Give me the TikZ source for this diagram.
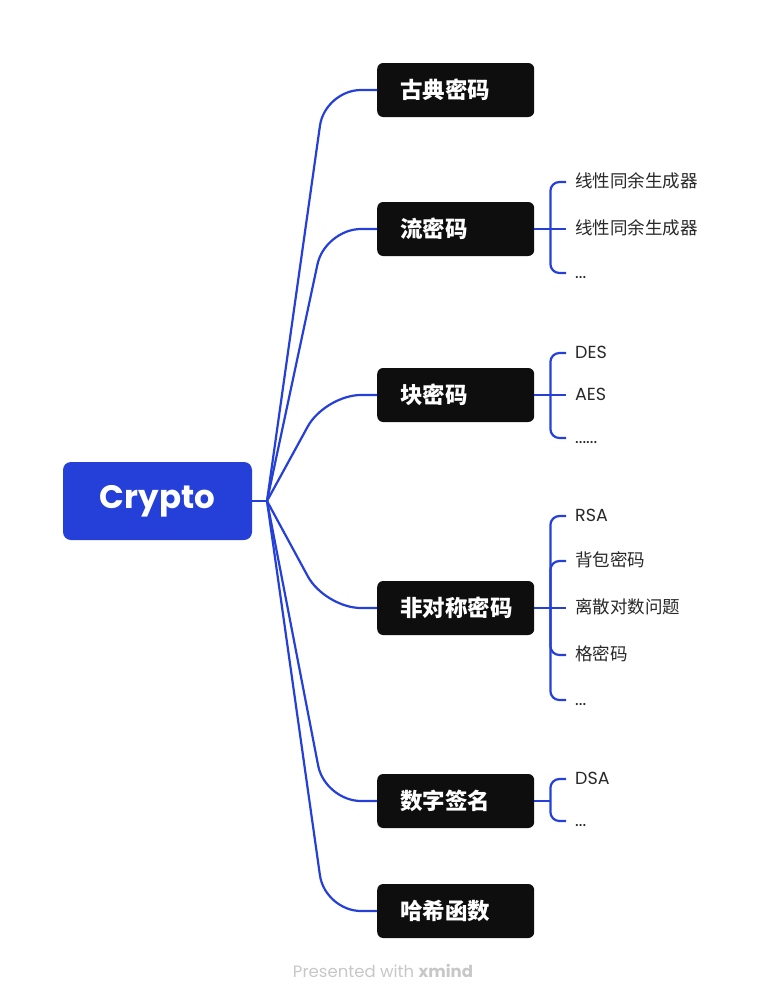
\documentclass[tikz,border=0pt]{standalone}
\usepackage{fontspec}
\setmainfont{Poppins}
\newfontfamily\cjk{Noto Sans CJK SC}
\definecolor{xblue}{RGB}{36,64,216}
\definecolor{xdark}{RGB}{14,14,14}
\definecolor{xtext}{RGB}{40,40,40}
\tikzset{
  topic/.style={fill=xdark,text=white,rounded corners=6pt,anchor=west,
    minimum height=54pt,text width=111pt,inner xsep=23pt,align=left,
    font=\cjk\bfseries\fontsize{22.5}{22.5}\selectfont},
  leaf/.style={anchor=west,inner sep=0pt,text height=13pt,text depth=3pt,
    text=xtext,font=\cjk\fontsize{17.5}{17.5}\selectfont},
  link/.style={draw=xblue,line width=2.2pt,rounded corners=36pt},
  sublink/.style={draw=xblue,line width=2.2pt,rounded corners=9pt},
}
\begin{document}
\begin{tikzpicture}[x=1pt,y=-1pt]
  \useasboundingbox (0,0) rectangle (767,1002);
  \node[fill=xblue,text=white,rounded corners=8pt,minimum width=189pt,
    minimum height=78pt,font=\bfseries\fontsize{32.5}{32.5}\selectfont] (root) at (157.5,501) {Crypto};
  \coordinate (hub) at (267,501);
  \draw[link] (root.east) -- (hub);
  % main topics
  \node[topic] (t1) at (377,90) {古典密码};
  \node[topic] (t2) at (377,229) {流密码};
  \node[topic] (t3) at (377,395) {块密码};
  \node[topic] (t4) at (377,608) {非对称密码};
  \node[topic] (t5) at (377,801) {数字签名};
  \node[topic] (t6) at (377,911) {哈希函数};
  \foreach \t/\y in {t1/90,t2/229,t3/395,t4/608,t5/801,t6/911}
    \draw[link] (hub) -- (325,\y) -- (\t.west);
  % subtopics
  \node[leaf] (c21) at (575,182) {线性同余生成器};
  \node[leaf] (c22) at (575,229) {线性同余生成器};
  \node[leaf] (c23) at (575,273) {\rmfamily ...};
  \node[leaf] (c31) at (575,353) {\rmfamily DES};
  \node[leaf] (c32) at (575,395) {\rmfamily AES};
  \node[leaf] (c33) at (575,438) {\rmfamily ......};
  \node[leaf] (c41) at (575,516) {\rmfamily RSA};
  \node[leaf] (c42) at (575,561) {背包密码};
  \node[leaf] (c43) at (575,608) {离散对数问题};
  \node[leaf] (c44) at (575,655) {格密码};
  \node[leaf] (c45) at (575,700) {\rmfamily ...};
  \node[leaf] (c51) at (575,779) {\rmfamily DSA};
  \node[leaf] (c52) at (575,821) {\rmfamily ...};
  \coordinate (s2) at ([xshift=16pt]t2.east);
  \coordinate (s3) at ([xshift=16pt]t3.east);
  \coordinate (s4) at ([xshift=16pt]t4.east);
  \coordinate (s5) at ([xshift=16pt]t5.east);
  \draw[sublink] (t2.east) -- ([xshift=-9pt]c22.west);
  \draw[sublink] (t3.east) -- ([xshift=-9pt]c32.west);
  \draw[sublink] (t4.east) -- ([xshift=-9pt]c43.west);
  \draw[sublink] (t5.east) -- (s5);
  \foreach \c in {c21,c23}
    \draw[sublink] (s2) |- ([xshift=-9pt]\c.west);
  \foreach \c in {c31,c33}
    \draw[sublink] (s3) |- ([xshift=-9pt]\c.west);
  \foreach \c in {c41,c42,c44,c45}
    \draw[sublink] (s4) |- ([xshift=-9pt]\c.west);
  \foreach \c in {c51,c52}
    \draw[sublink] (s5) |- ([xshift=-9pt]\c.west);
  \node[text=black!22,font=\fontsize{16.5}{16.5}\selectfont] (mark) at (383,971)
    {Presented with \textbf{xmind}};
\end{tikzpicture}
\end{document}
